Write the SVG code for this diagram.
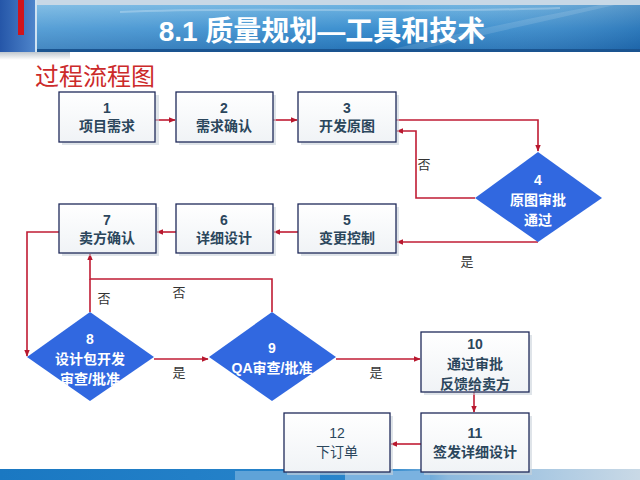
<svg xmlns="http://www.w3.org/2000/svg" width="640" height="480" viewBox="0 0 640 480">
<defs>
<linearGradient id="ban" x1="0" y1="0" x2="0" y2="1">
<stop offset="0" stop-color="#6cb2e0"/><stop offset="0.5" stop-color="#3b8fcf"/><stop offset="1" stop-color="#2270b4"/>
</linearGradient>
<linearGradient id="banH" x1="0" y1="0" x2="1" y2="0">
<stop offset="0" stop-color="#ffffff" stop-opacity="0.15"/><stop offset="0.6" stop-color="#ffffff" stop-opacity="0"/><stop offset="1" stop-color="#0a3c80" stop-opacity="0.25"/>
</linearGradient>
<linearGradient id="lb" x1="0" y1="0" x2="1" y2="0">
<stop offset="0" stop-color="#2556a8"/><stop offset="1" stop-color="#4f86cc"/>
</linearGradient>
<linearGradient id="box" x1="0" y1="0" x2="0" y2="1">
<stop offset="0" stop-color="#ffffff"/><stop offset="1" stop-color="#f0f3f6"/>
</linearGradient>
<linearGradient id="foot" x1="0" y1="0" x2="1" y2="0">
<stop offset="0" stop-color="#1a78c2"/><stop offset="0.6" stop-color="#2a86cc"/><stop offset="0.7" stop-color="#8cb9de"/><stop offset="1" stop-color="#c9d9e6"/>
</linearGradient>
<linearGradient id="shd" x1="0" y1="0" x2="0" y2="1">
<stop offset="0" stop-color="#7a8a99" stop-opacity="0.6"/><stop offset="1" stop-color="#7a8a99" stop-opacity="0"/>
</linearGradient>
<marker id="ah" viewBox="0 0 10 10" refX="9" refY="5" markerWidth="7" markerHeight="7" markerUnits="userSpaceOnUse" orient="auto">
<path d="M0,1 L10,5 L0,9 z" fill="#b8182e"/>
</marker>
<style>
.bx{fill:url(#box);stroke:#1f2a5a;stroke-width:1.3}
.sh{fill:#c9d2da;opacity:0.6}
.dm{fill:#3168e0}
.t{font-family:"Liberation Sans","Noto Sans CJK SC",sans-serif;font-weight:bold;font-size:14px;fill:#2b465c;text-anchor:middle}
.tn{font-family:"Liberation Sans","Noto Sans CJK SC",sans-serif;font-size:14px;fill:#2b465c;text-anchor:middle}
.w{font-family:"Liberation Sans","Noto Sans CJK SC",sans-serif;font-weight:bold;font-size:14px;fill:#ffffff;text-anchor:middle}
.lb{font-family:"Liberation Sans","Noto Sans CJK SC",sans-serif;font-size:13px;fill:#333333;text-anchor:middle}
.c{fill:none;stroke:#c01c34;stroke-width:1.6}
</style>
</defs>
<rect width="640" height="480" fill="#ffffff"/>
<!-- header -->
<g id="header">
<rect x="0" y="0" width="640" height="6" fill="#c8d8e6"/>
<rect x="0" y="50" width="70" height="10" fill="url(#shd)"/>
<rect x="0" y="0" width="36" height="52" fill="url(#lb)"/>
<rect x="18" y="0" width="6" height="35" fill="#d0141c"/>
<rect x="35" y="0" width="2" height="52" fill="#cfe2f2"/>
<rect x="37" y="5" width="603" height="47" fill="url(#ban)"/>
<rect x="37" y="5" width="603" height="47" fill="url(#banH)"/>
<path d="M380,52 C450,35 520,20 600,5 L615,5 C540,22 470,38 410,52 z" fill="#ffffff" opacity="0.12"/>
<path d="M120,12 C250,6 400,14 560,8" stroke="#ffffff" stroke-opacity="0.25" stroke-width="2" fill="none"/>
<rect x="37" y="49" width="603" height="3" fill="#1a5490"/>
<text x="322" y="41" font-family="Liberation Sans,'Noto Sans CJK SC',sans-serif" font-weight="bold" font-size="28" fill="#ffffff" text-anchor="middle">8.1 质量规划—工具和技术</text>
</g>
<text x="35" y="85" font-family="'Noto Sans CJK SC',sans-serif" font-size="24" fill="#cc2a2a">过程流程图</text>
<!-- footer -->
<rect x="0" y="469" width="640" height="11" fill="url(#foot)"/>
<rect x="235" y="471" width="85" height="9" fill="#5fa3d8"/>
<rect x="345" y="471" width="85" height="9" fill="#7ab2e0"/>
<!-- connectors -->
<g id="connectors">
<path class="c" d="M155,120 H175" marker-end="url(#ah)"/>
<path class="c" d="M273,120 H297" marker-end="url(#ah)"/>
<path class="c" d="M396,120 H538 V151" marker-end="url(#ah)"/>
<path class="c" d="M475,198 H416 V131 H397" marker-end="url(#ah)"/>
<path class="c" d="M538,242 H397" marker-end="url(#ah)"/>
<path class="c" d="M298,232 H274" marker-end="url(#ah)"/>
<path class="c" d="M176,232 H157" marker-end="url(#ah)"/>
<path class="c" d="M59,232 H27 V356" marker-end="url(#ah)"/>
<path class="c" d="M154,359 H208" marker-end="url(#ah)"/>
<path class="c" d="M272,312 V279 H90 V254" marker-end="url(#ah)"/>
<path class="c" d="M90,312 V279"/>
<path class="c" d="M336,359 H420" marker-end="url(#ah)"/>
<path class="c" d="M474,392 V412" marker-end="url(#ah)"/>
<path class="c" d="M421,444 H391" marker-end="url(#ah)"/>
<text class="lb" x="424" y="169">否</text>
<text class="lb" x="467" y="266">是</text>
<text class="lb" x="104" y="303">否</text>
<text class="lb" x="179" y="297">否</text>
<text class="lb" x="179" y="377">是</text>
<text class="lb" x="376" y="377">是</text>
</g>
<!-- nodes -->
<g id="n1"><rect class="sh" x="62" y="95" width="97" height="50"/><rect class="bx" x="59" y="92" width="96" height="50"/><text class="t" x="107" y="113">1</text><text class="t" x="107" y="131">项目需求</text></g>
<g id="n2"><rect class="sh" x="179" y="95" width="97" height="50"/><rect class="bx" x="176" y="92" width="97" height="50"/><text class="t" x="224" y="113">2</text><text class="t" x="224" y="131">需求确认</text></g>
<g id="n3"><rect class="sh" x="301" y="95" width="98" height="50"/><rect class="bx" x="298" y="92" width="98" height="50"/><text class="t" x="347" y="113">3</text><text class="t" x="347" y="131">开发原图</text></g>
<g id="n4"><path class="dm" d="M538,152 L602,198 L538,242 L475,198 z"/><text class="w" x="538" y="185">4</text><text class="w" x="538" y="205">原图审批</text><text class="w" x="538" y="225">通过</text></g>
<g id="n5"><rect class="sh" x="301" y="207" width="98" height="49"/><rect class="bx" x="298" y="204" width="98" height="49"/><text class="t" x="347" y="225">5</text><text class="t" x="347" y="243">变更控制</text></g>
<g id="n6"><rect class="sh" x="179" y="207" width="97" height="49"/><rect class="bx" x="176" y="204" width="97" height="49"/><text class="t" x="224" y="225">6</text><text class="t" x="224" y="243">详细设计</text></g>
<g id="n7"><rect class="sh" x="62" y="207" width="97" height="49"/><rect class="bx" x="59" y="204" width="97" height="49"/><text class="t" x="107" y="225">7</text><text class="t" x="107" y="243">卖方确认</text></g>
<g id="n8"><path class="dm" d="M90,312 L154,357 L90,401 L27,357 z"/><text class="w" x="90" y="344">8</text><text class="w" x="90" y="364">设计包开发</text><text class="w" x="90" y="384">审查/批准</text></g>
<g id="n9"><path class="dm" d="M272,312 L336,357 L272,401 L209,357 z"/><text class="w" x="272" y="353">9</text><text class="w" x="272" y="373">QA审查/批准</text></g>
<g id="n10"><rect class="sh" x="424" y="335" width="108" height="60"/><rect class="bx" x="421" y="332" width="108" height="60"/><text class="t" x="475" y="349">10</text><text class="t" x="475" y="369">通过审批</text><text class="t" x="475" y="389">反馈给卖方</text></g>
<g id="n11"><rect class="sh" x="424" y="416" width="108" height="59"/><rect class="bx" x="421" y="413" width="108" height="59"/><text class="t" x="475" y="438">11</text><text class="t" x="475" y="457">签发详细设计</text></g>
<g id="n12"><rect class="sh" x="287" y="416" width="106" height="59"/><rect class="bx" x="284" y="413" width="106" height="59"/><text class="tn" x="337" y="438">12</text><text class="tn" x="337" y="457">下订单</text></g>
</svg>
